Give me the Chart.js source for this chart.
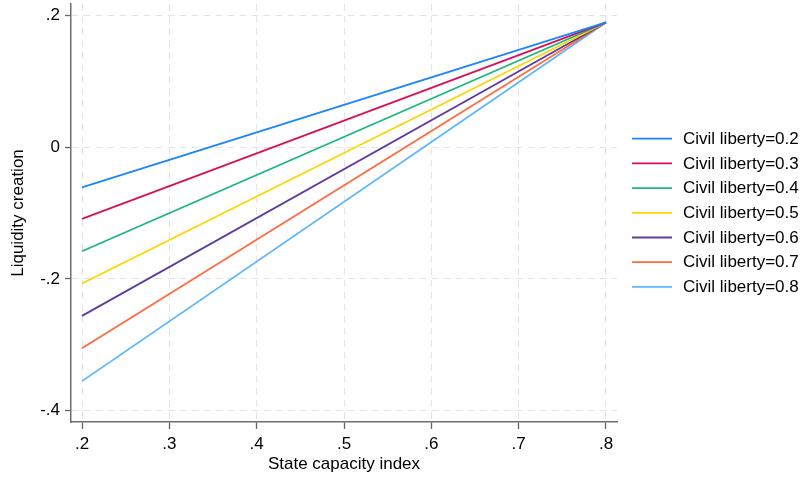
<!DOCTYPE html>
<html>
<head>
<meta charset="utf-8">
<script src="https://cdn.jsdelivr.net/npm/chart.js@4.4.1/dist/chart.umd.min.js"></script>
<style>
  html, body { margin: 0; padding: 0; background: #ffffff; }
  #wrap { width: 806px; height: 482px; position: relative; }
</style>
</head>
<body>
<div id="wrap"><canvas id="c" width="806" height="482"></canvas></div>
<script>
// ---- Data ----
const civilLiberty = [0.2, 0.3, 0.4, 0.5, 0.6, 0.7, 0.8];
const stateCapacity = [0.2, 0.8];                    // x values of the two end points
const valueAtLow  = [-0.061, -0.109, -0.158, -0.207, -0.256, -0.305, -0.355]; // at x = .2
const valueAtHigh = [0.189, 0.189, 0.189, 0.189, 0.189, 0.189, 0.189];        // at x = .8
const xTicks = [0.2, 0.3, 0.4, 0.5, 0.6, 0.7, 0.8];
const yTicks = [-0.4, -0.2, 0, 0.2];
const seriesColors = ['#1a85ff', '#d41159', '#1ab77c', '#ffd400', '#5e3c9e', '#ff6b3f', '#5bb5ff'];

const FONT = "'Liberation Sans', Arial, Helvetica, sans-serif";

const datasets = civilLiberty.map((cl, i) => ({
  label: 'Civil liberty=' + cl.toFixed(1),
  data: [
    { x: stateCapacity[0], y: valueAtLow[i] },
    { x: stateCapacity[1], y: valueAtHigh[i] }
  ],
  borderColor: seriesColors[i],
  backgroundColor: seriesColors[i],
  borderWidth: 1.8,
  pointRadius: 0,
  fill: false,
  tension: 0
}));

function fmt(v) {
  if (Math.abs(v) < 1e-9) return '0';
  return v.toFixed(1).replace(/^(-?)0\./, '$1.');
}

const legendPlugin = {
  id: 'customLegend',
  afterDraw(chart) {
    const ctx = chart.ctx;
    ctx.save();
    ctx.font = '17px ' + FONT;
    ctx.textBaseline = 'middle';
    ctx.textAlign = 'left';
    chart.data.datasets.forEach((ds, i) => {
      const y = 138.7 + i * 24.7;
      ctx.strokeStyle = ds.borderColor;
      ctx.lineWidth = 1.8;
      ctx.beginPath();
      ctx.moveTo(632, y);
      ctx.lineTo(672, y);
      ctx.stroke();
      ctx.fillStyle = '#000000';
      ctx.fillText(ds.label, 683, y + 0.5);
    });
    ctx.restore();
  }
};

const gridCommon = {
  color: '#e4e4e4',
  lineWidth: 1,
  drawTicks: true,
  tickColor: '#666666',
  tickWidth: 1.3
};

new Chart(document.getElementById('c'), {
  type: 'line',
  data: { datasets },
  options: {
    responsive: false,
    animation: false,
    devicePixelRatio: 1,
    layout: { padding: { top: 4, right: 189, bottom: 0, left: 0 } },
    plugins: {
      legend: { display: false },
      tooltip: { enabled: false }
    },
    scales: {
      x: {
        type: 'linear',
        min: 0.1874,
        max: 0.8126,
        afterBuildTicks(scale) { scale.ticks = xTicks.map(v => ({ value: v })); },
        afterFit(scale) { scale.height = 60; scale.paddingLeft = 0; scale.paddingRight = 0; },
        ticks: {
          callback: v => fmt(v),
          color: '#000000',
          font: { family: FONT, size: 17 },
          padding: 5,
          maxRotation: 0,
          autoSkip: false
        },
        grid: Object.assign({}, gridCommon, { tickLength: 7 }),
        border: { display: true, color: '#6e6e6e', width: 1.5, dash: [7, 5] },
        title: {
          display: true,
          text: 'State capacity index',
          color: '#000000',
          font: { family: FONT, size: 17 },
          padding: { top: 0, bottom: 7 }
        }
      },
      y: {
        type: 'linear',
        min: -0.417,
        max: 0.217,
        afterBuildTicks(scale) { scale.ticks = yTicks.map(v => ({ value: v })); },
        afterFit(scale) { scale.width = 71; scale.paddingTop = 0; scale.paddingBottom = 0; },
        ticks: {
          callback: v => fmt(v),
          color: '#000000',
          font: { family: FONT, size: 17 },
          padding: 5,
          autoSkip: false
        },
        grid: Object.assign({}, gridCommon, { tickLength: 6 }),
        border: { display: true, color: '#6e6e6e', width: 1.5, dash: [7, 5] },
        title: {
          display: true,
          text: 'Liquidity creation',
          color: '#000000',
          font: { family: FONT, size: 17 },
          padding: { top: 8, bottom: 0 }
        }
      }
    }
  },
  plugins: [legendPlugin]
});
</script>
</body>
</html>
